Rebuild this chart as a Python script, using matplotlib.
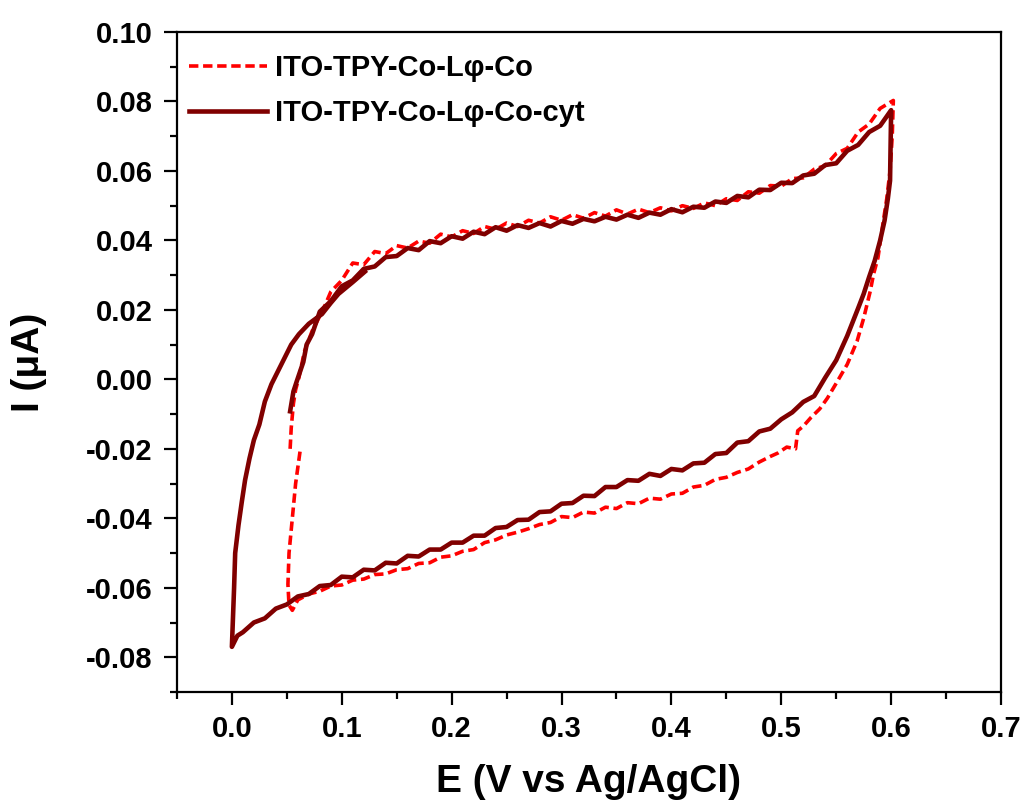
import matplotlib
matplotlib.use("Agg")
import matplotlib.pyplot as plt

plt.rcParams["font.family"] = ["Liberation Sans", "DejaVu Sans"]
plt.rcParams["font.weight"] = "bold"

# ITO-TPY-Co-Lφ-Co (red dashed) -- forward scan, then reverse scan
co_fwd_e = [0.053, 0.054, 0.056, 0.058, 0.061, 0.066, 0.073, 0.079, 0.085, 0.09,
            0.10, 0.11, 0.12, 0.13, 0.14, 0.15, 0.16, 0.17, 0.18, 0.19, 0.20,
            0.21, 0.22, 0.23, 0.24, 0.25, 0.26, 0.27, 0.28, 0.29, 0.30,
            0.31, 0.32, 0.33, 0.34, 0.35, 0.36, 0.37, 0.38, 0.39, 0.40,
            0.41, 0.42, 0.43, 0.44, 0.45, 0.46, 0.47, 0.48, 0.49, 0.50,
            0.51, 0.52, 0.53, 0.54, 0.55, 0.56, 0.57, 0.58, 0.59, 0.602]
co_fwd_i = [-0.0200, -0.0140, -0.0070, -0.0030, 0.0005, 0.0080, 0.0139, 0.0176, 0.0215, 0.0252,
            0.0285, 0.0335, 0.0330, 0.0368, 0.0362, 0.0385, 0.0378, 0.0398, 0.0392, 0.0418, 0.0410,
            0.0428, 0.0420, 0.0440, 0.0432, 0.0450, 0.0440, 0.0458, 0.0450, 0.0468, 0.0458,
            0.0474, 0.0464, 0.0480, 0.0470, 0.0488, 0.0476, 0.0490, 0.0480, 0.0494, 0.0485,
            0.0500, 0.0492, 0.0508, 0.0500, 0.0520, 0.0515, 0.0540, 0.0536, 0.0558, 0.0556,
            0.0578, 0.0580, 0.0605, 0.0615, 0.0650, 0.0665, 0.0712, 0.0735, 0.0780, 0.0803]
co_rev_e = [0.601, 0.599, 0.596, 0.592, 0.588, 0.584, 0.581, 0.575, 0.569, 0.560,
            0.551, 0.542, 0.535, 0.527, 0.520, 0.515, 0.513, 0.505, 0.497, 0.49,
            0.48, 0.47, 0.46, 0.45, 0.44, 0.43, 0.42, 0.41, 0.40, 0.39,
            0.38, 0.37, 0.36, 0.35, 0.34, 0.33, 0.32, 0.31, 0.30, 0.29,
            0.28, 0.27, 0.26, 0.25, 0.24, 0.23, 0.22, 0.21, 0.20, 0.19,
            0.18, 0.17, 0.16, 0.15, 0.14, 0.13, 0.12, 0.11, 0.10, 0.09,
            0.08, 0.07, 0.06, 0.055, 0.052, 0.051, 0.052, 0.055, 0.058, 0.062]
co_rev_i = [0.0700, 0.0600, 0.0520, 0.0437, 0.0350, 0.0303, 0.0254, 0.0176, 0.0110, 0.0043,
            -0.0006, -0.0054, -0.0085, -0.0110, -0.0135, -0.0148, -0.0200, -0.0195, -0.0212, -0.0222,
            -0.0238, -0.0258, -0.0268, -0.0282, -0.0288, -0.0305, -0.0310, -0.0328, -0.0330, -0.0345,
            -0.0342, -0.0358, -0.0355, -0.0372, -0.0368, -0.0385, -0.0382, -0.0398, -0.0395, -0.0412,
            -0.0418, -0.0430, -0.0440, -0.0448, -0.0462, -0.0470, -0.0490, -0.0495, -0.0508, -0.0512,
            -0.0528, -0.0530, -0.0545, -0.0548, -0.0560, -0.0562, -0.0575, -0.0578, -0.0592, -0.0595,
            -0.0610, -0.0618, -0.0635, -0.0665, -0.0650, -0.0590, -0.0500, -0.0400, -0.0300, -0.0208]

# ITO-TPY-Co-Lφ-Co-cyt (dark red solid) -- start, forward, reverse, return
cyt_fwd_e = [0.053, 0.056, 0.059, 0.065, 0.068, 0.073,
             0.08, 0.09, 0.10, 0.11, 0.12, 0.13, 0.14, 0.15, 0.16, 0.17, 0.18, 0.19, 0.20,
             0.21, 0.22, 0.23, 0.24, 0.25, 0.26, 0.27, 0.28, 0.29, 0.30,
             0.31, 0.32, 0.33, 0.34, 0.35, 0.36, 0.37, 0.38, 0.39, 0.40,
             0.41, 0.42, 0.43, 0.44, 0.45, 0.46, 0.47, 0.48, 0.49, 0.50,
             0.51, 0.52, 0.53, 0.54, 0.55, 0.56, 0.57, 0.58, 0.59, 0.60]
cyt_fwd_i = [-0.0092, -0.0035, -0.0006, 0.0050, 0.0100, 0.0130,
             0.0195, 0.0225, 0.0268, 0.0285, 0.0318, 0.0325, 0.0352, 0.0355, 0.0378, 0.0372, 0.0398, 0.0392, 0.0412,
             0.0405, 0.0425, 0.0418, 0.0438, 0.0428, 0.0444, 0.0436, 0.0450, 0.0440, 0.0456,
             0.0448, 0.0462, 0.0455, 0.0468, 0.0460, 0.0474, 0.0465, 0.0480, 0.0474, 0.0490,
             0.0481, 0.0497, 0.0494, 0.0512, 0.0508, 0.0528, 0.0524, 0.0546, 0.0545, 0.0566,
             0.0565, 0.0587, 0.0592, 0.0617, 0.0622, 0.0658, 0.0675, 0.0712, 0.0730, 0.0775]
cyt_rev_e = [0.599, 0.597, 0.594, 0.590, 0.585, 0.580, 0.575, 0.570, 0.565, 0.560,
             0.555, 0.550, 0.545, 0.540, 0.530, 0.520, 0.510, 0.500, 0.49, 0.48,
             0.47, 0.46, 0.45, 0.44, 0.43, 0.42, 0.41, 0.40, 0.39, 0.38,
             0.37, 0.36, 0.35, 0.34, 0.33, 0.32, 0.31, 0.30, 0.29, 0.28,
             0.27, 0.26, 0.25, 0.24, 0.23, 0.22, 0.21, 0.20, 0.19, 0.18,
             0.17, 0.16, 0.15, 0.14, 0.13, 0.12, 0.11, 0.10, 0.09, 0.08,
             0.07, 0.06, 0.05, 0.04, 0.03, 0.02, 0.01, 0.005, 0.000]
cyt_rev_i = [0.0572, 0.0520, 0.0457, 0.0400, 0.0341, 0.0295, 0.0246, 0.0205, 0.0165, 0.0125,
             0.0090, 0.0055, 0.0030, 0.0005, -0.0048, -0.0065, -0.0095, -0.0115, -0.0142, -0.0150,
             -0.0178, -0.0182, -0.0212, -0.0215, -0.0240, -0.0242, -0.0262, -0.0258, -0.0278, -0.0272,
             -0.0292, -0.0290, -0.0310, -0.0310, -0.0336, -0.0335, -0.0356, -0.0358, -0.0380, -0.0382,
             -0.0404, -0.0405, -0.0425, -0.0428, -0.0450, -0.0450, -0.0470, -0.0470, -0.0490, -0.0490,
             -0.0510, -0.0508, -0.0530, -0.0528, -0.0550, -0.0548, -0.0570, -0.0568, -0.0592, -0.0595,
             -0.0618, -0.0625, -0.0648, -0.0660, -0.0688, -0.0700, -0.0728, -0.0738, -0.0770]
cyt_ret_e = [0.002, 0.003, 0.006, 0.009, 0.012, 0.016, 0.020, 0.025, 0.030, 0.036,
             0.045, 0.054, 0.061, 0.070, 0.082, 0.090, 0.097, 0.110, 0.121]
cyt_ret_i = [-0.0600, -0.0500, -0.0420, -0.0353, -0.0290, -0.0228, -0.0175, -0.0130, -0.0064, -0.0014,
             0.0043, 0.0100, 0.0130, 0.0160, 0.0188, 0.0220, 0.0246, 0.0280, 0.0310]

fig = plt.figure(figsize=(10.27, 8.10), dpi=100)
ax = fig.add_axes([0.1723, 0.1457, 0.8024, 0.8148])

ax.plot(co_fwd_e + co_rev_e, co_fwd_i + co_rev_i, color="#ff0000", linewidth=2.6,
        linestyle=(0, (2.6, 1.3)), label="ITO-TPY-Co-Lφ-Co")
ax.plot(cyt_fwd_e + cyt_rev_e + cyt_ret_e, cyt_fwd_i + cyt_rev_i + cyt_ret_i,
        color="#800000", linewidth=3.3, label="ITO-TPY-Co-Lφ-Co-cyt")

ax.set_xlim(-0.05, 0.7)
ax.set_ylim(-0.09, 0.10)
ax.set_xticks([0.0, 0.1, 0.2, 0.3, 0.4, 0.5, 0.6, 0.7])
ax.set_xticks([-0.05, 0.05, 0.15, 0.25, 0.35, 0.45, 0.55, 0.65], minor=True)
ax.set_yticks([-0.08, -0.06, -0.04, -0.02, 0.00, 0.02, 0.04, 0.06, 0.08, 0.10])
ax.set_yticks([-0.09, -0.07, -0.05, -0.03, -0.01, 0.01, 0.03, 0.05, 0.07, 0.09], minor=True)
ax.xaxis.set_major_formatter(matplotlib.ticker.FormatStrFormatter("%.1f"))
ax.yaxis.set_major_formatter(matplotlib.ticker.FormatStrFormatter("%.2f"))

ax.tick_params(which="major", direction="out", length=9.5, width=1.6, labelsize=21)
ax.tick_params(axis="y", which="major", pad=8)
ax.tick_params(axis="x", which="major", pad=7)
ax.tick_params(which="minor", direction="out", length=5, width=1.6)
for spine in ax.spines.values():
    spine.set_linewidth(1.6)
for lbl in ax.get_xticklabels() + ax.get_yticklabels():
    lbl.set_fontweight("bold")

ax.set_xlabel("E (V vs Ag/AgCl)", fontsize=28, fontweight="bold", labelpad=15)
ax.set_ylabel("I (μA)", fontsize=28, fontweight="bold", labelpad=28)

ax.legend(loc="upper left", bbox_to_anchor=(-0.01, 0.998), frameon=False, fontsize=21,
          handlelength=2.67, handletextpad=0.27, labelspacing=0.6, borderaxespad=0.3)

fig.savefig("out.png", dpi=100)
